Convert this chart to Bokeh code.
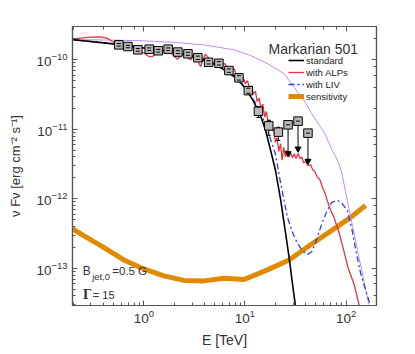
from bokeh.plotting import figure
from bokeh.models import Range1d, LogAxis, Label, Legend, LegendItem, CustomJSTickFormatter
from bokeh.embed import file_html
from bokeh.resources import INLINE

# ---- data ----
std_E = [0.2, 0.4, 0.7, 1.0, 2.0, 3.0, 4.0, 5.0, 6.0, 8.0, 10.0, 12.0, 14.0, 16.0, 18.0, 20.0, 22.6, 25.0, 27.3, 30.0, 32.0]
std_F = [1.94e-10, 1.75e-10, 1.6e-10, 1.48e-10, 1.28e-10, 1.12e-10, 9.8e-11, 8.6e-11, 7.4e-11, 5.6e-11, 4.0e-11,
         2.6e-11, 1.7e-11, 9.6e-12, 4.9e-12, 2.6e-12, 9.5e-13, 3.5e-13, 1.45e-13, 5e-14, 2.5e-14]

alp_E = [0.2, 0.25, 0.3, 0.37, 0.43, 0.5, 0.56, 0.63, 0.72, 0.8, 0.9, 1.0, 1.1, 1.2, 1.3, 1.45, 1.6, 1.8, 2.0, 2.15,
         2.35, 2.55, 2.75, 2.9, 3.1, 3.3, 3.5, 3.65, 3.85, 4.05, 4.3, 4.5, 4.75, 5.0, 5.3, 5.6, 6.0, 6.3, 6.7, 7.0,
         7.4, 7.8, 8.2, 8.7, 9.1, 9.6, 10.1, 10.6, 11.1, 11.6, 12.1, 12.7, 13.2, 13.8, 14.4, 15.0, 15.7, 16.3, 17.0,
         17.8, 18.5, 19.3, 20.0, 20.8, 21.6, 22.5, 23.3, 24.2, 25.2, 26.2, 27.2, 28.3, 29.5, 30.7, 32.0, 33.5, 35.0,
         36.5, 38.0, 40.0, 42.0, 44.5, 47.0, 49.0, 52.0, 55.0, 58.0, 62.0, 65.0, 70.0, 76.0, 85.0, 95.0, 105.0,
         120.0, 135.0, 145.0]
alp_F = [2.0e-10, 2.07e-10, 2.12e-10, 2.13e-10, 2.05e-10, 1.8e-10, 1.55e-10, 1.45e-10, 1.55e-10, 1.48e-10,
         1.38e-10, 1.25e-10, 1.13e-10, 1.1e-10, 1.2e-10, 1.32e-10, 1.38e-10, 1.3e-10, 1.12e-10, 1.02e-10,
         1.15e-10, 1.25e-10, 1.05e-10, 1.0e-10, 1.12e-10, 1.2e-10, 9.0e-11, 8.0e-11, 1.0e-10, 1.2e-10,
         1.1e-10, 9.5e-11, 8.3e-11, 9.5e-11, 9.8e-11, 9.2e-11, 8.4e-11, 8.8e-11, 7.6e-11, 8.0e-11,
         7.0e-11, 7.4e-11, 6.2e-11, 6.4e-11, 5.3e-11, 5.6e-11, 4.5e-11, 5.0e-11, 3.9e-11, 4.2e-11,
         3.2e-11, 3.5e-11, 2.5e-11, 2.8e-11, 2.0e-11, 2.3e-11, 1.5e-11, 1.8e-11, 1.2e-11,
         1.35e-11, 9.5e-12, 1.0e-11, 6.5e-12, 7.5e-12, 4.8e-12, 6.2e-12, 3.6e-12, 5.5e-12, 4.0e-12, 5.0e-12,
         4.0e-12, 4.6e-12, 3.9e-12, 4.4e-12, 3.8e-12, 4.5e-12, 3.8e-12,
         4.0e-12, 3.3e-12, 3.4e-12, 3.0e-12, 3.1e-12, 2.6e-12, 2.5e-12, 2.05e-12, 1.9e-12, 1.5e-12, 1.2e-12,
         9.5e-13, 7.0e-13, 5.4e-13, 3.3e-13, 1.8e-13, 1.0e-13, 5.9e-14, 2.9e-14, 1.8e-14]

liv_E = [0.2, 0.4, 0.7, 1.0, 2.0, 3.0, 4.0, 5.0, 6.0, 8.0, 10.0, 12.0, 14.0, 16.0, 18.0, 20.0, 22.5, 26.3, 30.0,
         33.0, 37.0, 41.5, 46.0, 52.0, 58.0, 65.0, 72.0, 81.0, 90.0, 103.0, 115.0, 125.0, 138.0, 150.0, 173.0]
liv_F = [1.95e-10, 1.76e-10, 1.61e-10, 1.49e-10, 1.29e-10, 1.13e-10, 9.9e-11, 8.7e-11, 7.5e-11, 5.7e-11, 4.1e-11,
         2.75e-11, 1.9e-11, 1.15e-11, 7.0e-12, 4.4e-12, 1.7e-12, 5.4e-13, 3.1e-13,
         2.3e-13, 1.8e-13, 1.58e-13, 1.75e-13, 2.8e-13, 4.5e-13, 6.8e-13, 8.8e-13, 9.6e-13, 8.8e-13, 6.8e-13,
         3.5e-13, 1.8e-13, 9e-14, 5.9e-14, 3e-14]

nab_E = [0.2, 0.5, 1.0, 2.0, 4.0, 7.8, 11.4, 16.7, 24.4, 30.5, 38.4, 48.0, 60.6, 73.0, 82.0, 90.0, 103.0, 115.0,
         130.0, 168.0]
nab_F = [1.95e-10, 1.92e-10, 1.87e-10, 1.78e-10, 1.63e-10, 1.39e-10, 1.15e-10, 8.8e-11, 6.3e-11, 4.05e-11,
         2.6e-11, 1.5e-11, 9.1e-12, 5.0e-12, 3.6e-12, 2.5e-12, 9.4e-13, 4.3e-13, 1.8e-13, 3.0e-14]

sens_E = [0.197, 0.254, 0.40, 0.634, 1.0, 1.58, 2.49, 3.92, 6.2, 9.8, 16.7, 27.3, 44.6, 76.0, 111.0, 156.0]
sens_F = [3.7e-13, 2.96e-13, 2.0e-13, 1.32e-13, 9.8e-14, 7.8e-14, 6.7e-14, 6.6e-14, 7.2e-14, 6.9e-14, 9.5e-14,
          1.32e-13, 2.18e-13, 3.7e-13, 5.4e-13, 8.0e-13]

data_E = [0.566, 0.695, 0.873, 1.13, 1.39, 1.74, 2.17, 2.73, 3.42, 4.37, 5.53, 6.94, 8.72, 10.8, 13.6, 17.2, 21.4]
data_F = [1.64e-10, 1.55e-10, 1.39e-10, 1.42e-10, 1.35e-10, 1.42e-10, 1.29e-10, 1.22e-10, 1.07e-10, 9.2e-11,
          8.9e-11, 7.0e-11, 5.5e-11, 3.6e-11, 1.82e-11, 1.12e-11, 9.1e-12]
data_lo = [1.57e-10, 1.49e-10, 1.33e-10, 1.36e-10, 1.29e-10, 1.36e-10, 1.23e-10, 1.16e-10, 1.01e-10, 8.7e-11,
           8.4e-11, 6.6e-11, 5.1e-11, 3.3e-11, 1.48e-11, 8.2e-12, 6.9e-12]
data_hi = [1.71e-10, 1.61e-10, 1.45e-10, 1.48e-10, 1.41e-10, 1.48e-10, 1.35e-10, 1.28e-10, 1.13e-10, 9.7e-11,
           9.4e-11, 7.4e-11, 5.9e-11, 3.9e-11, 2.1e-11, 1.35e-11, 1.07e-11]

ul_E = [26.7, 33.5, 42.0]
ul_F = [1.16e-11, 1.31e-11, 8.8e-12]
ul_end = [4.5e-12, 5.25e-12, 3.5e-12]

FONT = "Liberation Sans"
AX = "#555555"
TXT = "#333333"

p = figure(width=399, height=353, x_axis_type="log", y_axis_type="log",
           x_range=Range1d(0.197, 200), y_range=Range1d(2.92e-14, 3.01e-10),
           output_backend="svg", toolbar_location=None,
           min_border_left=72, min_border_right=23, min_border_top=26, min_border_bottom=48)
p.xgrid.visible = False
p.ygrid.visible = False
p.outline_line_color = AX
p.outline_line_width = 1.2
p.background_fill_color = "white"
p.border_fill_color = "white"


def style_axis(ax, labels=True):
    ax.axis_line_color = AX
    ax.axis_line_width = 1.2
    ax.major_tick_line_color = AX
    ax.minor_tick_line_color = AX
    ax.major_tick_in = 5
    ax.major_tick_out = 0
    ax.minor_tick_in = 3
    ax.minor_tick_out = 0
    if labels:
        ax.major_label_text_font = FONT
        ax.major_label_text_font_size = "13.5px"
        ax.major_label_text_color = TXT
        ax.axis_label_text_font = FONT
        ax.axis_label_text_font_size = "14px"
        ax.axis_label_text_font_style = "normal"
        ax.axis_label_text_color = TXT
    else:
        ax.formatter = CustomJSTickFormatter(code="return ''")


style_axis(p.xaxis[0])
style_axis(p.yaxis[0])
p.xaxis.major_label_standoff = 4
p.yaxis.major_label_standoff = 5
p.xaxis.axis_label = "E [TeV]"
p.xaxis.axis_label_standoff = 6
p.yaxis.axis_label = "ν Fν [erg cm⁻² s⁻¹]"
p.yaxis.axis_label_text_font_size = "13px"
p.yaxis.axis_label_standoff = 10

right = LogAxis()
style_axis(right, labels=False)
p.add_layout(right, "right")
top = LogAxis()
style_axis(top, labels=False)
p.add_layout(top, "above")

# curves
r_sens = p.line(sens_E, sens_F, line_color="#e08a00", line_width=5)
r_nab = p.line(nab_E, nab_F, line_color="#c98be8", line_width=1)
r_alp = p.line(alp_E, alp_F, line_color="#e8333f", line_width=1.3)
r_liv = p.line(liv_E, liv_F, line_color="#2b3fe0", line_width=1.3, line_dash="6 3 2 3")
r_std = p.line(std_E, std_F, line_color="black", line_width=1.6)

# data points
p.segment(x0=data_E, y0=data_lo, x1=data_E, y1=data_hi, line_color="black", line_width=1)
p.segment(x0=ul_E, y0=ul_F, x1=ul_E, y1=ul_end, line_color="black", line_width=1)
p.scatter(ul_E, ul_end, marker="inverted_triangle", size=6, fill_color="black", line_color="black")
p.scatter(data_E, data_F, marker="square", size=8.5, fill_color="#b8b8b8", line_color="black", line_width=1)
p.scatter(ul_E, ul_F, marker="square", size=8.5, fill_color="#b8b8b8", line_color="black", line_width=1)
p.scatter(data_E, data_lo, marker="dash", size=4, line_color="black")
p.scatter(data_E, data_hi, marker="dash", size=4, line_color="black")
p.scatter(ul_E, ul_F, marker="dash", size=4, line_color="black")

legend = Legend(items=[LegendItem(label="standard", renderers=[r_std]),
                       LegendItem(label="with ALPs", renderers=[r_alp]),
                       LegendItem(label="with LIV", renderers=[r_liv]),
                       LegendItem(label="sensitivity", renderers=[r_sens])],
                location=(216, 203), padding=0, margin=0, spacing=0,
                label_height=12, glyph_height=12, glyph_width=16, label_standoff=2,
                label_text_font=FONT, label_text_font_size="9.5px", label_text_color="#222222",
                border_line_color=None, background_fill_alpha=0)
p.add_layout(legend)


def lab(text, x, y, size, font=FONT, style="normal"):
    p.add_layout(Label(x=x, y=y, x_units="screen", y_units="screen", text=text,
                       text_font=font, text_font_size=size, text_color=TXT, text_font_style=style,
                       text_align="left", text_baseline="alphabetic"))


lab("Markarian 501", 196, 256.7, "14px")
lab("B", 10.3, 34.3, "12px")
lab("jet,0", 19.7, 29, "9.5px")
lab("=0.5 G", 39.7, 34.3, "11.5px")
lab("Γ", 10.3, 11, "12px", font="DejaVu Serif", style="bold")
lab("= 15", 20.3, 11, "11px")

open("out.html", "w").write(file_html(p, INLINE))
